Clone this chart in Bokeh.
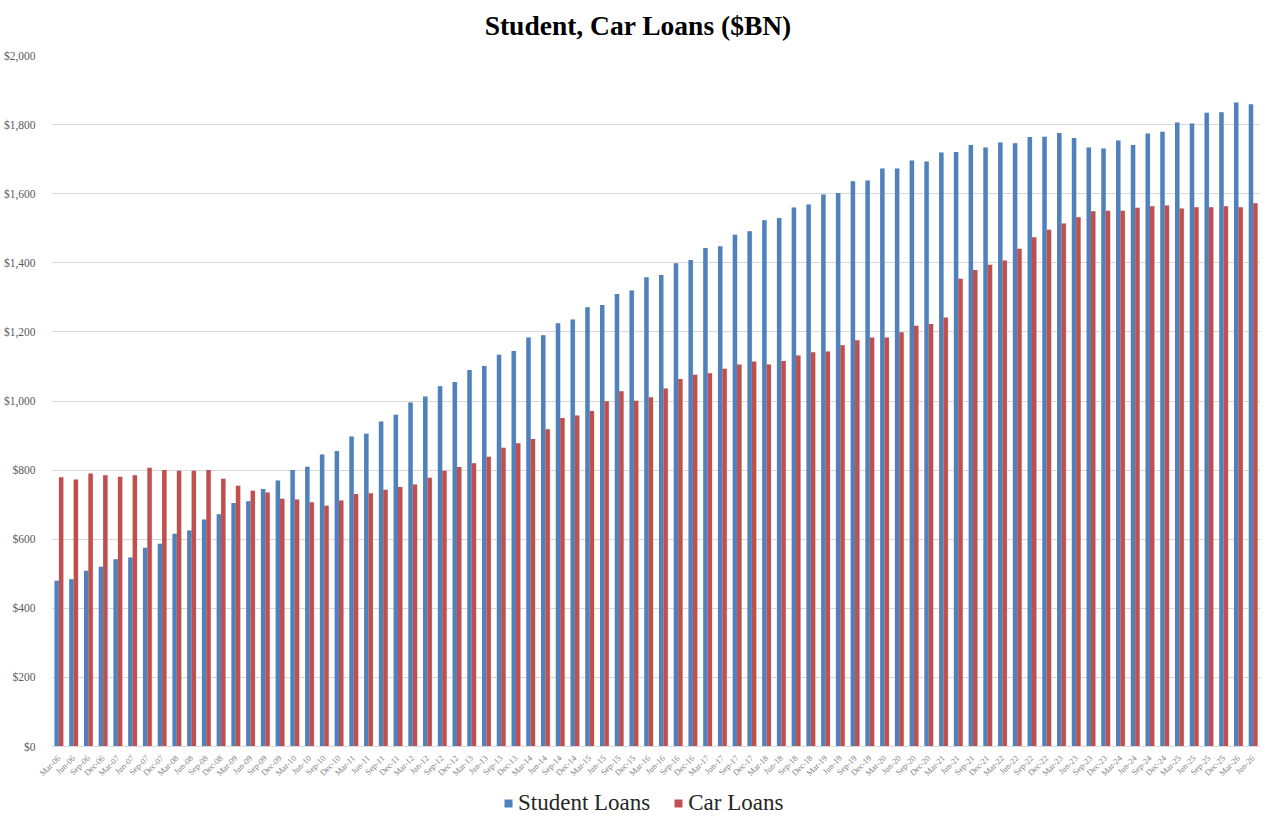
from bokeh.plotting import figure
from bokeh.layouts import column
from bokeh.core.properties import value
from bokeh.models import ColumnDataSource, FactorRange, Range1d, NumeralTickFormatter, FixedTicker, Legend, LegendItem
from bokeh.transform import dodge
from bokeh.embed import file_html
from bokeh.resources import INLINE
import math

title_text = "Student, Car Loans ($BN)"

quarters = ["Mar", "Jun", "Sep", "Dec"]
years = ["06", "07", "08", "09", "10", "11", "12", "13", "14", "15", "16", "17", "18", "19", "20", "21", "22", "23", "24", "25", "26"]
labels = [f"{q}-{y}" for y in years for q in quarters][:82]

student = [480, 484, 509, 520, 542, 547, 575, 587, 616, 625,
           657, 672, 705, 710, 745, 770, 800, 810, 845, 855,
           897, 905, 941, 960, 996, 1013, 1043, 1055, 1090, 1101,
           1134, 1145, 1184, 1190, 1225, 1236, 1271, 1278, 1310, 1320,
           1358, 1365, 1399, 1408, 1443, 1448, 1481, 1491, 1523, 1530,
           1560, 1569, 1598, 1602, 1636, 1638, 1673, 1673, 1696, 1693,
           1719, 1721, 1741, 1734, 1748, 1746, 1764, 1765, 1776, 1761,
           1734, 1731, 1754, 1741, 1774, 1779, 1806, 1803, 1834, 1836,
           1864, 1859]

car = [779, 773, 790, 785, 781, 785, 807, 800, 798, 798,
       800, 775, 755, 740, 735, 717, 715, 707, 697, 712,
       731, 733, 743, 751, 758, 778, 798, 809, 820, 839,
       865, 878, 890, 918, 951, 958, 971, 999, 1028, 1001,
       1011, 1036, 1064, 1076, 1080, 1093, 1106, 1114, 1106, 1116,
       1132, 1141, 1143, 1161, 1176, 1184, 1184, 1199, 1218, 1223,
       1242, 1354, 1379, 1394, 1407, 1441, 1474, 1496, 1514, 1532,
       1549, 1551, 1551, 1559, 1564, 1566, 1557, 1561, 1561, 1564,
       1561, 1572]

y_ticks = [0, 200, 400, 600, 800, 1000, 1200, 1400, 1600, 1800, 2000]
series_names = ["Student Loans", "Car Loans"]

src = ColumnDataSource(dict(label=labels, student=student, car=car))

SERIF = "Liberation Serif"
BLUE = "#4F81BD"
RED = "#C0504D"


def strip(height):
    f = figure(width=1264, height=height, x_range=Range1d(0, 1), y_range=Range1d(0, 1),
               x_axis_type=None, y_axis_type=None, output_backend="svg", toolbar_location=None,
               min_border_left=0, min_border_right=0, min_border_top=0, min_border_bottom=0)
    f.grid.visible = False
    f.outline_line_color = None
    f.background_fill_color = "white"
    f.border_fill_color = "white"
    return f


# title strip
tf = strip(48)
tf.x_range = Range1d(51, 1268)
tf.y_range = Range1d(0, 48)
tf.text(x=[487], y=[23], text=[title_text], text_font=value(SERIF), text_font_size="27.5px",
        text_font_style="bold", text_color="#000000", text_align="left", text_baseline="alphabetic")

# main chart
p = figure(width=1264, height=738, x_range=FactorRange(*labels), y_range=Range1d(0, 2000),
           output_backend="svg", toolbar_location=None,
           min_border_left=43, min_border_right=4, min_border_top=7, min_border_bottom=40)
p.outline_line_color = None
p.background_fill_color = "white"
p.border_fill_color = "white"

# soft drop shadows
p.vbar(x=dodge("label", -0.12, range=p.x_range), top="student", width=0.3, source=src,
       fill_color="#9a9a9a", fill_alpha=0.35, line_color=None)
p.vbar(x=dodge("label", 0.18, range=p.x_range), top="car", width=0.3, source=src,
       fill_color="#9a9a9a", fill_alpha=0.35, line_color=None)

p.vbar(x=dodge("label", -0.15, range=p.x_range), top="student", width=0.3, source=src,
       fill_color=BLUE, line_color=None)
p.vbar(x=dodge("label", 0.15, range=p.x_range), top="car", width=0.3, source=src,
       fill_color=RED, line_color=None)

p.xgrid.grid_line_color = None
p.ygrid.grid_line_color = "#d9d9d9"
p.ygrid.grid_line_width = 1

p.yaxis.ticker = FixedTicker(ticks=y_ticks)
p.yaxis.formatter = NumeralTickFormatter(format="$0,0")
p.yaxis.axis_line_color = None
p.yaxis.major_tick_line_color = None
p.yaxis.minor_tick_line_color = None
p.yaxis.major_label_text_font = SERIF
p.yaxis.major_label_text_font_size = "11.5px"
p.yaxis.major_label_text_color = "#595959"
p.yaxis.major_label_standoff = 10

p.xaxis.axis_line_color = "#d9d9d9"
p.xaxis.major_tick_line_color = None
p.xaxis.minor_tick_line_color = None
p.xaxis.major_label_orientation = math.pi / 4
p.xaxis.major_label_text_font = SERIF
p.xaxis.major_label_text_font_size = "8.5px"
p.xaxis.major_label_text_color = "#7f7f7f"
p.xaxis.major_label_standoff = 4

# legend strip below the chart
lg = strip(30)
lg1 = lg.vbar(x=[0.5], top=[0], width=0.01, fill_color=BLUE, line_color=None)
lg2 = lg.vbar(x=[0.5], top=[0], width=0.01, fill_color=RED, line_color=None)

legend = Legend(items=[LegendItem(label=series_names[0], renderers=[lg1]),
                       LegendItem(label=series_names[1], renderers=[lg2])],
                orientation="horizontal", location=(452, 0))
legend.label_text_font = SERIF
legend.label_text_font_size = "23px"
legend.label_text_color = "#262626"
legend.glyph_width = 10
legend.glyph_height = 10
legend.spacing = 23
legend.label_standoff = 5
legend.padding = 2
legend.margin = 0
legend.border_line_color = None
legend.background_fill_alpha = 0
lg.add_layout(legend, "center")

layout = column(tf, p, lg, spacing=0)
open("out.html", "w").write(file_html(layout, INLINE))
